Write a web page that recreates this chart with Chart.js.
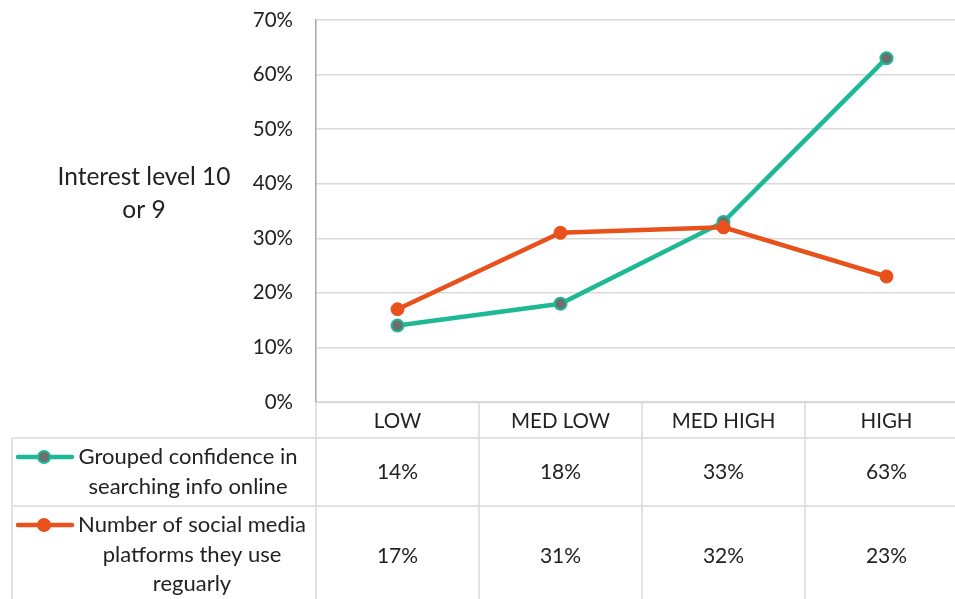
<!DOCTYPE html>
<html>
<head>
<meta charset="utf-8">
<script src="https://cdn.jsdelivr.net/npm/chart.js@4.4.1/dist/chart.umd.min.js"></script>
<style>
  html, body { margin: 0; padding: 0; background: #ffffff; overflow: hidden; }
  #wrap { width: 980px; height: 599px; position: relative; }
</style>
</head>
<body>
<div id="wrap"><canvas id="chart" width="980" height="599"></canvas></div>
<script>
// Categories and series
const categories = ['LOW', 'MED LOW', 'MED HIGH', 'HIGH'];
const seriesNames = [
  ['Grouped confidence in', 'searching info online'],
  ['Number of social media', 'platforms they use', 'reguarly']
];
const confidenceValues = [14, 18, 33, 63];
const platformValues = [17, 31, 32, 23];
const yTicks = [0, 10, 20, 30, 40, 50, 60, 70];
const yTitle = ['Interest level 10', 'or 9'];

const GREEN = '#1DB996';
const ORANGE = '#E8501C';
const MARKER_GRAY = '#6E6E6E';
const TEXT = '#222222';
const LINE = '#D9D9D9';
const FONT = 'Lato, "Open Sans", sans-serif';

// Data table under the plot, legend keys and the horizontal axis title
const tablePlugin = {
  id: 'dataTable',
  afterDraw(chart) {
    const { ctx, chartArea, scales } = chart;
    const xs = scales.x;
    const centers = categories.map((_, i) => xs.getPixelForValue(i));
    const half = (centers[1] - centers[0]) / 2;
    const left = 12;
    const plotLeft = chartArea.left;
    const right = centers[centers.length - 1] + half;
    const top = chartArea.bottom;
    const headerBottom = top + 36;
    const row1Bottom = headerBottom + 68;
    const row2Bottom = chart.height + 20;

    ctx.save();
    ctx.strokeStyle = LINE;
    ctx.lineWidth = 1.5;
    ctx.beginPath();
    // horizontal rules
    ctx.moveTo(plotLeft, top + 0.5); ctx.lineTo(right, top + 0.5);
    ctx.moveTo(left, headerBottom); ctx.lineTo(right, headerBottom);
    ctx.moveTo(left, row1Bottom); ctx.lineTo(right, row1Bottom);
    // vertical rules
    ctx.moveTo(left, headerBottom); ctx.lineTo(left, row2Bottom);
    ctx.moveTo(plotLeft, top); ctx.lineTo(plotLeft, row2Bottom);
    centers.forEach(c => { ctx.moveTo(c + half, top); ctx.lineTo(c + half, row2Bottom); });
    ctx.stroke();

    ctx.fillStyle = TEXT;
    ctx.textAlign = 'center';
    ctx.textBaseline = 'middle';
    ctx.font = '20.5px ' + FONT;
    categories.forEach((c, i) => ctx.fillText(c, centers[i], top + 19));
    ctx.font = '21px ' + FONT;
    confidenceValues.forEach((v, i) => ctx.fillText(v + '%', centers[i], headerBottom + 34));
    platformValues.forEach((v, i) => ctx.fillText(v + '%', centers[i], row1Bottom + 50));

    // row labels
    ctx.font = '22px ' + FONT;
    const lineH = 29.5;
    seriesNames[0].forEach((t, j) => ctx.fillText(t, 188, headerBottom + 19 + j * lineH));
    seriesNames[1].forEach((t, j) => ctx.fillText(t, 192, row1Bottom + 19 + j * lineH));

    // legend keys
    const key = (y, color, fill) => {
      ctx.strokeStyle = color;
      ctx.lineWidth = 4.5;
      ctx.lineCap = 'round';
      ctx.beginPath(); ctx.moveTo(18, y); ctx.lineTo(72, y); ctx.stroke();
      ctx.beginPath(); ctx.arc(44, y, 6, 0, Math.PI * 2);
      ctx.fillStyle = fill; ctx.fill();
      ctx.lineWidth = 2; ctx.strokeStyle = color; ctx.stroke();
    };
    key(headerBottom + 19, GREEN, MARKER_GRAY);
    key(row1Bottom + 19, ORANGE, ORANGE);

    // vertical axis title, set horizontally
    ctx.fillStyle = TEXT;
    ctx.font = '24.5px ' + FONT;
    ctx.textAlign = 'center';
    yTitle.forEach((t, j) => ctx.fillText(t, 144, 177 + j * 33));
    ctx.restore();
  }
};

new Chart(document.getElementById('chart'), {
  type: 'line',
  data: {
    labels: categories,
    datasets: [
      {
        label: seriesNames[0].join(' '),
        data: confidenceValues,
        borderColor: GREEN,
        backgroundColor: MARKER_GRAY,
        borderWidth: 4.5,
        pointRadius: 6,
        pointBorderWidth: 2,
        pointBorderColor: GREEN,
        pointBackgroundColor: MARKER_GRAY,
        order: 1
      },
      {
        label: seriesNames[1].join(' '),
        data: platformValues,
        borderColor: ORANGE,
        backgroundColor: ORANGE,
        borderWidth: 4.5,
        pointRadius: 6.5,
        pointBorderWidth: 1,
        pointBorderColor: ORANGE,
        pointBackgroundColor: ORANGE,
        order: 0
      }
    ]
  },
  options: {
    responsive: false,
    animation: false,
    layout: { padding: { top: 20, right: 12, bottom: 0, left: 0 } },
    plugins: { legend: { display: false }, tooltip: { enabled: false } },
    scales: {
      x: {
        type: 'category',
        offset: true,
        grid: { display: false, drawTicks: false },
        border: { display: false },
        ticks: { display: false },
        afterFit(scale) { scale.height = 197; }
      },
      y: {
        min: 0,
        max: 70,
        afterBuildTicks(scale) { scale.ticks = yTicks.map(v => ({ value: v })); },
        grid: { color: LINE, lineWidth: 1.5, drawTicks: false },
        border: { display: true, color: '#A6A6A6', width: 1.5 },
        ticks: {
          padding: 23,
          color: TEXT,
          font: { family: FONT, size: 20.5 },
          callback: v => v + '%'
        },
        afterFit(scale) {
          scale.width = 316;
          scale.paddingTop = 0;
          scale.paddingBottom = 0;
        }
      }
    }
  },
  plugins: [tablePlugin]
});
</script>
</body>
</html>
